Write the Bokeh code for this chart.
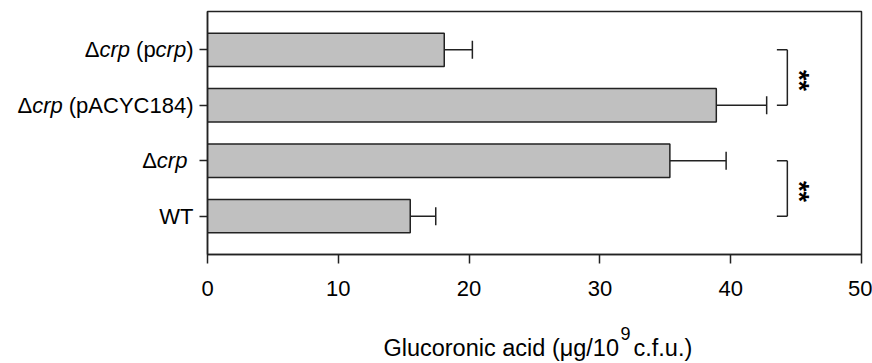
from math import pi
from bokeh.plotting import figure
from bokeh.layouts import row, column
from bokeh.models import ColumnDataSource, Range1d, FixedTicker, Whisker, TeeHead, Label
from bokeh.core.properties import value
from bokeh.embed import file_html
from bokeh.resources import INLINE

# ---- data (bottom to top) ----
strains = ["WT", "Δcrp", "Δcrp (pACYC184)", "Δcrp (pcrp)"]
means = [15.5, 35.35, 38.9, 18.1]
errors = [1.95, 4.3, 3.85, 2.15]
x_ticks = [0, 10, 20, 30, 40, 50]
sig_pairs = [(0, 1), (2, 3)]          # indices into strains
sig_marks = ["**", "**"]
x_title_parts = ["Glucoronic acid (μg/10", "9", "c.f.u.)"]

# label segments: (text, italic)
label_parts = {
    "WT": [("WT", False)],
    "Δcrp": [("Δ", False), ("crp", True)],
    "Δcrp (pACYC184)": [("Δ", False), ("crp", True), ("(pACYC184)", False)],
    "Δcrp (pcrp)": [("Δ", False), ("crp", True), ("(p", False), ("crp", True), (")", False)],
}

FONT = "Liberation Sans"
FS = 22
INK = "#222222"

# ---- layout geometry (pixels) ----
W, H = 872, 363
LAB_W = 195          # width of label strip
MAIN_H = 320
TOP, BOT = 11, 66    # frame borders of main plot
FRAME_L = LAB_W + 12
FRAME_R = W - 11

ypos = [i + 1 for i in range(len(strains))]
yr = Range1d(0.31, len(strains) + 0.69)
src = ColumnDataSource(dict(y=ypos, mean=means,
                            upper=[m + e for m, e in zip(means, errors)]))

p = figure(width=W - LAB_W, height=MAIN_H, output_backend="svg", toolbar_location=None,
           x_range=Range1d(x_ticks[0], x_ticks[-1]), y_range=yr, title=None,
           min_border_left=12, min_border_right=11, min_border_top=TOP, min_border_bottom=BOT)
p.outline_line_color = INK
p.outline_line_width = 1.5
p.xgrid.visible = False
p.ygrid.visible = False

p.hbar(y="y", right="mean", left=0, height=0.6, source=src,
       fill_color="#c0c0c0", line_color=INK, line_width=1.5)

p.add_layout(Whisker(base="y", lower="mean", upper="upper", dimension="width", source=src,
                     line_color=INK, line_width=1.5, lower_head=None,
                     upper_head=TeeHead(size=18, line_color=INK, line_width=1.5)))

xa = p.xaxis[0]
xa.ticker = FixedTicker(ticks=x_ticks)
xa.minor_tick_line_color = None
xa.major_tick_in = 0
xa.major_tick_out = 9
xa.major_tick_line_color = INK
xa.major_tick_line_width = 1.5
xa.axis_line_color = INK
xa.axis_line_width = 1.5
xa.major_label_text_font = FONT
xa.major_label_text_font_size = f"{FS}px"
xa.major_label_text_color = "black"
xa.major_label_standoff = 17

ya = p.yaxis[0]
ya.ticker = FixedTicker(ticks=ypos)
ya.minor_tick_line_color = None
ya.major_tick_in = 0
ya.major_tick_out = 8
ya.major_tick_line_color = INK
ya.major_tick_line_width = 1.5
ya.axis_line_color = INK
ya.axis_line_width = 1.5
ya.major_label_text_color = None
ya.major_label_text_font_size = "1px"
ya.major_label_standoff = 0

# significance brackets
bx, arm = 44.33, 0.8
for (a, b), mark in zip(sig_pairs, sig_marks):
    y0, y1 = ypos[a], ypos[b]
    p.segment(x0=[bx, bx - arm, bx - arm], y0=[y0, y0, y1],
              x1=[bx, bx, bx], y1=[y1, y0, y1], line_color=INK, line_width=1.5)
    p.add_layout(Label(x=bx, y=(y0 + y1) / 2, x_offset=12, y_offset=-3, text=mark,
                       angle=-pi / 2, text_align="center", text_baseline="middle",
                       text_font=FONT, text_font_size="27px", text_font_style="bold",
                       text_color="black"))

# ---- category labels (mixed italic) in a strip left of the plot ----
adv = {"WT": 1.555, "Δ": 0.667, "crp": 1.389, "(pACYC184)": 5.668, "(p": 0.889, ")": 0.333}
space = 0.278 * FS
right_edge = FRAME_L - 14
seg = {False: dict(x=[], y=[], text=[]), True: dict(x=[], y=[], text=[])}
for name, y in zip(strains, ypos):
    parts = list(reversed(label_parts[name]))
    xr = right_edge - (space if name == "Δcrp" else 0)
    for k, (txt, ital) in enumerate(parts):
        seg[ital]["x"].append(xr)
        seg[ital]["y"].append(y)
        seg[ital]["text"].append(txt)
        xr -= adv[txt] * FS
        if k + 1 < len(parts) and (txt == "(pACYC184)" or (txt == "(p" and parts[k + 1][0] == "crp")):
            xr -= space

lab = figure(width=LAB_W, height=MAIN_H, output_backend="svg", toolbar_location=None,
             x_range=Range1d(0, LAB_W), y_range=yr, title=None,
             x_axis_type=None, y_axis_type=None,
             min_border_left=0, min_border_right=0, min_border_top=TOP, min_border_bottom=BOT)
lab.outline_line_color = None
lab.xgrid.visible = False
lab.ygrid.visible = False
for ital in (False, True):
    lab.text(x="x", y="y", text="text", source=ColumnDataSource(seg[ital]),
             text_align="right", text_baseline="middle", text_font=value(FONT),
             text_font_size=f"{FS}px", text_color="black",
             text_font_style="italic" if ital else "normal")

# ---- x axis title with superscript ----
TH = H - MAIN_H
tt = figure(width=W, height=TH, output_backend="svg", toolbar_location=None,
            x_range=Range1d(0, W), y_range=Range1d(0, TH), title=None,
            x_axis_type=None, y_axis_type=None,
            min_border_left=0, min_border_right=0, min_border_top=0, min_border_bottom=0)
tt.outline_line_color = None
tt.xgrid.visible = False
tt.ygrid.visible = False
cx = (FRAME_L + FRAME_R) / 2
base = 16
tt.text(x=[cx + 84.5], y=[base], text=[x_title_parts[0]], text_align="right",
        text_baseline="alphabetic", text_font=value(FONT), text_font_size="23.5px",
        text_color="black")
tt.text(x=[cx + 86], y=[base + 14], text=[x_title_parts[1]], text_align="left",
        text_baseline="alphabetic", text_font=value(FONT), text_font_size="18px",
        text_color="black")
tt.text(x=[cx + 99], y=[base], text=[x_title_parts[2]], text_align="left",
        text_baseline="alphabetic", text_font=value(FONT), text_font_size="23.5px",
        text_color="black")

layout = column(row(lab, p), tt)
open("out.html", "w").write(file_html(layout, INLINE))
